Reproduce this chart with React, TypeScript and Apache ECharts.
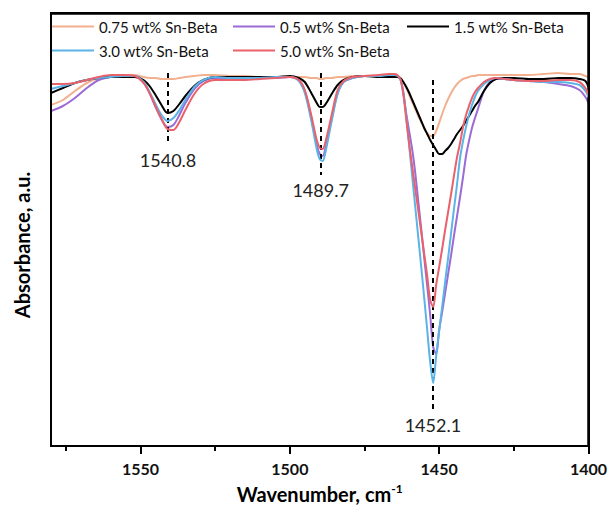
import React, { useEffect, useRef } from "react";
import * as echarts from "echarts";

const wavenumbers = [
  1580, 1576, 1572, 1568, 1564, 1560, 1556, 1552,
  1549, 1547, 1545, 1543, 1541, 1539, 1537, 1535,
  1532, 1529, 1525, 1520, 1515, 1510, 1505, 1500,
  1497, 1495, 1493, 1491, 1490, 1489, 1488, 1486,
  1484, 1482, 1479, 1475, 1470, 1467, 1465,
  1464, 1463, 1462, 1461, 1460, 1459, 1458, 1457, 1456, 1455, 1454, 1453, 1452, 1451,
  1450, 1449, 1448, 1447, 1446, 1445, 1444, 1443, 1442, 1441, 1440, 1439, 1438, 1437,
  1435, 1433, 1431, 1428, 1425, 1420, 1415, 1410, 1406, 1403, 1401, 1400,
];

const sn075 = [
  3.41, 3.46, 3.55, 3.63, 3.68, 3.70, 3.71, 3.71,
  3.69, 3.68, 3.68, 3.67, 3.67, 3.67, 3.68, 3.69,
  3.70, 3.71, 3.71, 3.70, 3.70, 3.69, 3.69, 3.69,
  3.69, 3.69, 3.68, 3.68, 3.67, 3.67, 3.68, 3.68,
  3.69, 3.69, 3.70, 3.70, 3.70, 3.70, 3.70,
  3.69, 3.68, 3.64, 3.58, 3.51, 3.44, 3.37, 3.30, 3.24, 3.18, 3.13, 3.10, 3.10, 3.15,
  3.23, 3.32, 3.40, 3.47, 3.53, 3.58, 3.62, 3.65, 3.67, 3.68, 3.69, 3.70, 3.70, 3.71,
  3.71, 3.71, 3.71, 3.71, 3.71, 3.71, 3.72, 3.73, 3.72, 3.72, 3.70, 3.69,
];

const sn05 = [
  3.35, 3.40, 3.48, 3.58, 3.66, 3.69, 3.70, 3.70,
  3.64, 3.53, 3.39, 3.27, 3.19, 3.21, 3.31, 3.43,
  3.57, 3.65, 3.68, 3.68, 3.68, 3.68, 3.68, 3.69,
  3.66, 3.55, 3.31, 3.01, 2.92, 2.90, 2.99, 3.27,
  3.53, 3.64, 3.68, 3.70, 3.70, 3.71, 3.71,
  3.70, 3.67, 3.52, 3.32, 3.14, 2.96, 2.73, 2.45, 2.17, 1.88, 1.60, 1.31, 0.99, 0.92,
  1.16, 1.34, 1.53, 1.72, 1.91, 2.11, 2.30, 2.49, 2.69, 2.90, 3.05, 3.18, 3.28, 3.37,
  3.55, 3.64, 3.67, 3.67, 3.66, 3.65, 3.64, 3.62, 3.60, 3.56, 3.49, 3.43,
];

const sn15 = [
  3.53, 3.58, 3.63, 3.66, 3.68, 3.69, 3.69, 3.69,
  3.66, 3.60, 3.51, 3.41, 3.33, 3.35, 3.42, 3.50,
  3.60, 3.66, 3.69, 3.69, 3.69, 3.69, 3.69, 3.70,
  3.68, 3.64, 3.54, 3.43, 3.39, 3.39, 3.42, 3.52,
  3.61, 3.66, 3.69, 3.70, 3.69, 3.69, 3.69,
  3.69, 3.68, 3.64, 3.59, 3.53, 3.46, 3.39, 3.32, 3.25, 3.18, 3.12, 3.06, 3.01, 2.96,
  2.92, 2.92, 2.95, 2.98, 3.02, 3.07, 3.12, 3.16, 3.20, 3.25, 3.30, 3.35, 3.40, 3.44,
  3.55, 3.63, 3.67, 3.68, 3.68, 3.67, 3.67, 3.68, 3.68, 3.67, 3.65, 3.59,
];

const sn30 = [
  3.57, 3.60, 3.63, 3.66, 3.68, 3.69, 3.70, 3.70,
  3.64, 3.54, 3.42, 3.31, 3.25, 3.28, 3.36, 3.46,
  3.59, 3.66, 3.69, 3.68, 3.68, 3.68, 3.69, 3.69,
  3.65, 3.53, 3.28, 2.97, 2.87, 2.85, 2.95, 3.25,
  3.52, 3.64, 3.68, 3.70, 3.70, 3.71, 3.71,
  3.70, 3.67, 3.54, 3.29, 2.99, 2.69, 2.39, 2.09, 1.79, 1.48, 1.16, 0.84, 0.63, 0.90,
  1.15, 1.39, 1.64, 1.88, 2.13, 2.38, 2.62, 2.88, 3.05, 3.19, 3.31, 3.41, 3.49, 3.55,
  3.62, 3.66, 3.68, 3.67, 3.66, 3.65, 3.64, 3.64, 3.63, 3.61, 3.55, 3.49,
];

const sn50 = [
  3.62, 3.62, 3.63, 3.66, 3.69, 3.71, 3.71, 3.70,
  3.63, 3.53, 3.40, 3.27, 3.17, 3.16, 3.24, 3.36,
  3.52, 3.62, 3.66, 3.66, 3.66, 3.67, 3.68, 3.69,
  3.66, 3.56, 3.33, 3.06, 2.98, 2.97, 3.05, 3.31,
  3.56, 3.65, 3.69, 3.70, 3.71, 3.72, 3.72,
  3.71, 3.67, 3.53, 3.26, 3.01, 2.79, 2.57, 2.36, 2.14, 1.92, 1.70, 1.46, 1.39, 1.61,
  1.79, 1.97, 2.16, 2.34, 2.52, 2.71, 2.89, 3.03, 3.19, 3.31, 3.40, 3.48, 3.54, 3.58,
  3.64, 3.67, 3.68, 3.67, 3.66, 3.65, 3.65, 3.66, 3.66, 3.64, 3.58, 3.51,
];

const seriesNames = [
  "0.75 wt% Sn-Beta",
  "0.5 wt% Sn-Beta",
  "1.5 wt% Sn-Beta",
  "3.0 wt% Sn-Beta",
  "5.0 wt% Sn-Beta",
];
const seriesValues = [sn075, sn05, sn15, sn30, sn50];
const seriesColors = ["#F2B08F", "#9B6BD6", "#000000", "#5BB3E6", "#E9626B"];

const peakPositions = [1540.8, 1489.7, 1452.1];
const peakLabels = ["1540.8", "1489.7", "1452.1"];
const peakLineTop = [3.73, 3.73, 3.66];
const peakLineBottom = [3.01, 2.71, 0.36];

const X_MIN = 1400;
const X_MAX = 1580;
const Y_MIN = 0;
const Y_MAX = 4.33;

const majorTicks = [1550, 1500, 1450, 1400];
const minorTicks = [1575, 1525, 1475, 1425];

const legendLeft = [52, 233, 407, 52, 233];
const legendTop = [19, 19, 19, 43, 43];

const W = 610;
const H = 515;
const GRID = { left: 51, right: 21, top: 13, bottom: 69 };

const FONT = "Lato, 'Open Sans', sans-serif";

export default function App() {
  const ref = useRef<HTMLDivElement>(null);

  useEffect(() => {
    if (!ref.current) return;
    const chart = echarts.init(ref.current, null, { renderer: "svg" });

    const series: any[] = seriesNames.map((name, k) => ({
      name,
      type: "line",
      xAxisIndex: 0,
      yAxisIndex: 0,
      data: wavenumbers.map((w, i) => [w, seriesValues[k][i]]),
      symbol: "none",
      smooth: 0.3,
      lineStyle: { color: seriesColors[k], width: 2 },
      itemStyle: { color: seriesColors[k] },
      z: 2 + k,
    }));

    series.push({
      name: "peaks",
      type: "line",
      data: [],
      z: 20,
      markLine: {
        silent: true,
        symbol: ["none", "none"],
        animation: false,
        lineStyle: { color: "#000", width: 2, type: [5, 4] },
        label: {
          show: true,
          position: "end",
          distance: 6,
          fontSize: 18,
          fontFamily: FONT,
          color: "#222",
        },
        data: peakPositions.map((p, i) => [
          { coord: [p, peakLineTop[i]] },
          {
            coord: [p, peakLineBottom[i]],
            label: { formatter: peakLabels[i] },
          },
        ]),
      },
    });

    // top and right edges of the plot frame
    series.push({
      name: "frame",
      type: "line",
      data: [],
      z: 30,
      markLine: {
        silent: true,
        symbol: ["none", "none"],
        animation: false,
        lineStyle: { color: "#000", width: 2.5, type: "solid" },
        label: { show: false },
        data: [
          [{ coord: [X_MAX, Y_MAX] }, { coord: [X_MIN, Y_MAX] }],
          [{ coord: [X_MIN, Y_MAX] }, { coord: [X_MIN, Y_MIN] }],
        ],
      },
    });

    const legends = seriesNames.map((name, k) => ({
      data: [name],
      left: legendLeft[k],
      top: legendTop[k],
      padding: 0,
      icon: "rect",
      itemWidth: 42,
      itemHeight: 2,
      itemGap: 0,
      selectedMode: false,
      textStyle: { fontSize: 15, fontFamily: FONT, color: "#111" },
    }));

    chart.setOption({
      animation: false,
      backgroundColor: "#fff",
      grid: { ...GRID },
      legend: legends,
      xAxis: [
        {
          type: "value",
          min: X_MIN,
          max: X_MAX,
          inverse: true,
          position: "bottom",
          name: "Wavenumber, cm{sup|-1}",
          nameLocation: "middle",
          nameGap: 36,
          nameTextStyle: {
            fontSize: 20,
            fontWeight: "bold",
            fontFamily: FONT,
            color: "#000",
            rich: {
              sup: {
                fontSize: 12,
                fontWeight: "bold",
                fontFamily: FONT,
                color: "#000",
                padding: [0, 0, 12, 0],
              },
            },
          },
          axisLine: { show: true, onZero: false, lineStyle: { color: "#000", width: 2 } },
          axisTick: {
            show: true,
            customValues: majorTicks,
            length: 8,
            lineStyle: { color: "#000", width: 2 },
          },
          axisLabel: {
            show: true,
            customValues: majorTicks,
            formatter: (v: number) => String(v),
            margin: 14,
            fontSize: 16,
            fontWeight: "bold",
            fontFamily: FONT,
            color: "#111",
          },
          splitLine: { show: false },
        },
        {
          type: "value",
          min: X_MIN,
          max: X_MAX,
          inverse: true,
          position: "bottom",
          axisLine: { show: false, onZero: false },
          axisTick: {
            show: true,
            customValues: minorTicks,
            length: 5,
            lineStyle: { color: "#000", width: 2 },
          },
          axisLabel: { show: false },
          splitLine: { show: false },
        },
      ],
      yAxis: {
        type: "value",
        min: Y_MIN,
        max: Y_MAX,
        position: "left",
        axisLine: { show: true, onZero: false, lineStyle: { color: "#000", width: 2 } },
        axisTick: { show: false },
        axisLabel: { show: false },
        splitLine: { show: false },
      },
      graphic: [
        {
          type: "text",
          x: 22,
          y: 245,
          rotation: Math.PI / 2,
          style: {
            text: "Absorbance, a.u.",
            fontSize: 20,
            fontWeight: "bold",
            fontFamily: FONT,
            fill: "#000",
            align: "center",
            verticalAlign: "middle",
          },
        },
        {
          type: "rect",
          silent: true,
          z: 50,
          shape: {
            x: GRID.left,
            y: GRID.top,
            width: W - GRID.left - GRID.right,
            height: H - GRID.top - GRID.bottom,
          },
          style: { fill: "transparent", stroke: "#000", lineWidth: 2 },
        },
      ],
      series,
    });

    return () => chart.dispose();
  }, []);

  return (
    <div
      ref={ref}
      style={{ position: "absolute", left: 0, top: 0, width: W, height: H }}
    />
  );
}
